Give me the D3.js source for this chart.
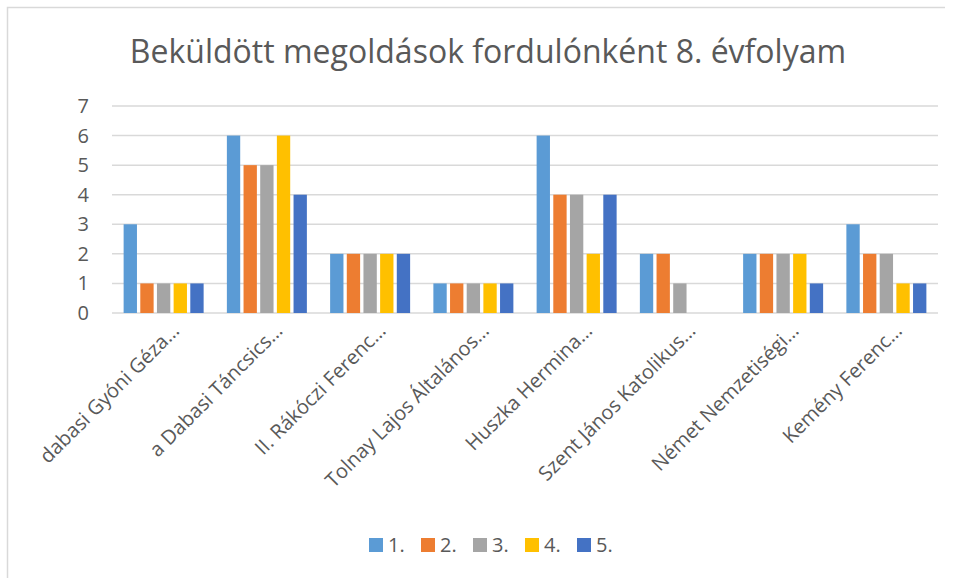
<!DOCTYPE html>
<html lang="hu">
<head>
    <meta charset="UTF-8">
    <script src="https://d3js.org/d3.v7.min.js"></script>
    <style>
        body { margin: 0; background: #fff; font-family: "Open Sans", sans-serif; }
    </style>
</head>
<body>
    <svg id="chart" width="955" height="578"></svg>
    <script>
        const title = "Beküldött megoldások fordulónként 8. évfolyam";
        const categories = [
            "dabasi Gyóni Géza…",
            "a Dabasi Táncsics…",
            "II. Rákóczi Ferenc…",
            "Tolnay Lajos Általános…",
            "Huszka Hermina…",
            "Szent János Katolikus…",
            "Német Nemzetiségi…",
            "Kemény Ferenc…"
        ];
        const seriesNames = ["1.", "2.", "3.", "4.", "5."];
        const s1 = [3, 6, 2, 1, 6, 2, 2, 3];
        const s2 = [1, 5, 2, 1, 4, 2, 2, 2];
        const s3 = [1, 5, 2, 1, 4, 1, 2, 2];
        const s4 = [1, 6, 2, 1, 2, 0, 2, 1];
        const s5 = [1, 4, 2, 1, 4, 0, 1, 1];
        const yTicks = [0, 1, 2, 3, 4, 5, 6, 7];
        const colors = ["#5B9BD5", "#ED7D31", "#A5A5A5", "#FFC000", "#4472C4"];

        const seriesValues = [s1, s2, s3, s4, s5];
        const width = 955, height = 578;
        const margin = { top: 106, right: 17, bottom: 265, left: 112 };
        const labelSize = "20px";

        const svg = d3.select("#chart");

        // chart border (runs off the right/bottom edge)
        svg.append("path")
            .attr("d", "M7.5,600 L7.5,7.5 L945,7.5")
            .attr("fill", "none")
            .attr("stroke", "#D9D9D9")
            .attr("stroke-width", 1.5);

        const x = d3.scaleBand()
            .domain(categories)
            .range([margin.left, width - margin.right]);

        const x1 = d3.scaleBand()
            .domain(seriesNames)
            .range([0, 80])
            .paddingInner(0.2);

        const y = d3.scaleLinear()
            .domain([0, 7])
            .range([height - margin.bottom, margin.top]);

        // gridlines
        svg.append("g")
            .selectAll("line")
            .data(yTicks)
            .join("line")
            .attr("x1", margin.left)
            .attr("x2", width - margin.right)
            .attr("y1", d => y(d))
            .attr("y2", d => y(d))
            .attr("stroke", "#D9D9D9")
            .attr("stroke-width", 1.5);

        // y labels
        svg.append("g")
            .selectAll("text")
            .data(yTicks)
            .join("text")
            .attr("x", 89)
            .attr("y", d => y(d))
            .attr("dy", "0.35em")
            .attr("text-anchor", "end")
            .attr("fill", "#595959")
            .style("font-size", labelSize)
            .text(d => d);

        // bars
        const groupOffset = (x.bandwidth() - 80) / 2;
        seriesValues.forEach((vals, si) => {
            svg.append("g")
                .selectAll("rect")
                .data(vals)
                .join("rect")
                .attr("x", (d, i) => x(categories[i]) + groupOffset + x1(seriesNames[si]))
                .attr("y", d => y(d))
                .attr("width", x1.bandwidth())
                .attr("height", d => y(0) - y(d))
                .attr("fill", colors[si]);
        });

        // x labels
        svg.append("g")
            .selectAll("text")
            .data(categories)
            .join("text")
            .attr("transform", d => `translate(${x(d) + x.bandwidth() / 2 + 17},332) rotate(-45)`)
            .attr("text-anchor", "end")
            .attr("fill", "#595959")
            .style("font-size", labelSize)
            .text(d => d);

        // title
        svg.append("text")
            .attr("x", 488)
            .attr("y", 63)
            .attr("text-anchor", "middle")
            .attr("fill", "#595959")
            .style("font-size", "32px")
            .text(title);

        // legend
        const legend = svg.append("g")
            .attr("transform", "translate(369,538)");

        seriesNames.forEach((name, i) => {
            const row = legend.append("g")
                .attr("transform", `translate(${i * 52},0)`);
            row.append("rect")
                .attr("width", 14)
                .attr("height", 14)
                .attr("fill", colors[i]);
            row.append("text")
                .attr("x", 19)
                .attr("y", 7)
                .attr("dy", "0.35em")
                .attr("fill", "#595959")
                .style("font-size", labelSize)
                .text(name);
        });
    </script>
</body>
</html>
